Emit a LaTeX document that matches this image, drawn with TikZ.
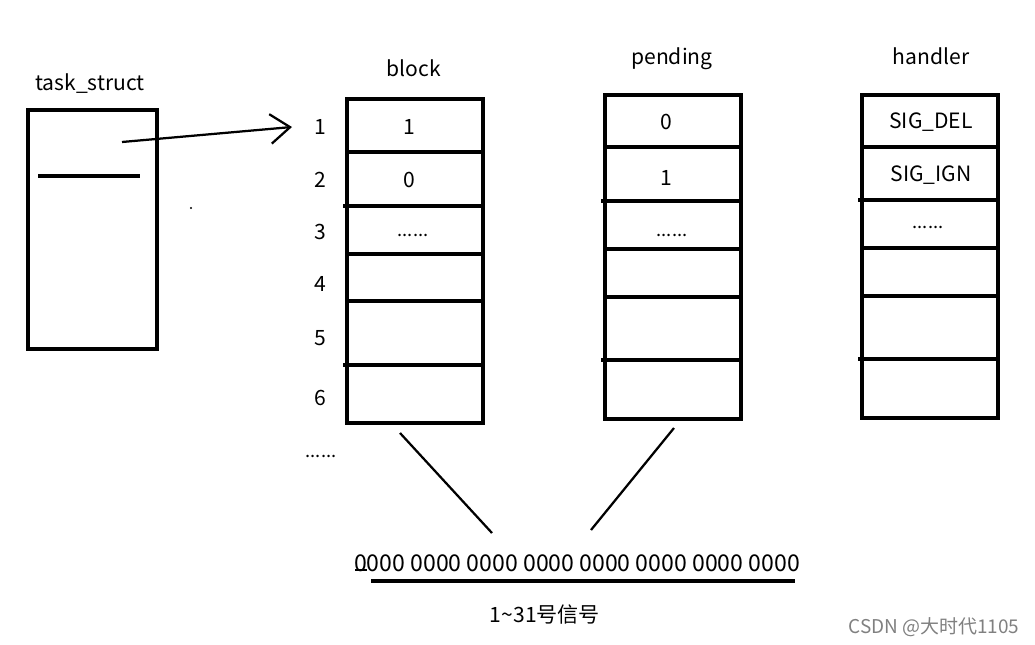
\documentclass[tikz,border=0pt]{standalone}
\usepackage{fontspec}
\setmainfont{Noto Sans CJK SC}
\usetikzlibrary{arrows.meta}
\begin{document}
\begin{tikzpicture}[x=0.025cm,y=-0.025cm]
        % Define styles
        \tikzset{
            box/.style={line width=2.2pt},
            link/.style={line width=1.6pt},
            label/.style={font=\fontsize{15}{18}\selectfont, inner sep=0pt},
            dots/.style={font=\fontsize{13}{15}\selectfont, inner sep=0pt}
        }
        \useasboundingbox (0,0) rectangle (1035,645);
        % task_struct
        \node[label] (task) at (90,84) {task\_struct};
        \draw[box] (28,110) rectangle (157,349);
        \draw[box] (38,176) -- (140,176);
        \coordinate (ptr) at (122,142);
        \fill (191,208) circle (0.8pt);
        % Signal numbers
        \foreach \n/\y in {1/127, 2/180, 3/232, 4/284, 5/338, 6/398}
            \node[label] (row\n) at (320,\y) {\n};
        \node[dots] (rowmore) at (321,456) {......};
        % Pointer to the block table
        \coordinate (tip) at (292,127);
        \draw[link, -{Straight Barb[length=14pt,width=21pt]}] (ptr) -- (tip);
        % block table
        \node[label] (block) at (414,68) {block};
        \draw[box] (347,99) rectangle (483,423);
        \foreach \y/\x in {152/347, 206/343, 254/347, 301/347, 365/343}
            \draw[box] (\x,\y) -- (483,\y);
        \node[label] (b1) at (409,127) {1};
        \node[label] (b2) at (409,180) {0};
        \node[dots] (b3) at (413,235) {......};
        % pending table
        \node[label] (pending) at (672,59) {pending};
        \draw[box] (605,95) rectangle (741,419);
        \foreach \y/\x in {147/605, 201/601, 249/605, 297/605, 360/601}
            \draw[box] (\x,\y) -- (741,\y);
        \node[label] (p1) at (666,122) {0};
        \node[label] (p2) at (666,178) {1};
        \node[dots] (p3) at (672,235) {......};
        % handler table
        \node[label] (handler) at (931,56) {handler};
        \draw[box] (862,95) rectangle (998,418);
        \foreach \y/\x in {147/862, 200/858, 248/862, 296/862, 359/858}
            \draw[box] (\x,\y) -- (998,\y);
        \node[label] (h1) at (931,122) {SIG\_DEL};
        \node[label] (h2) at (931,175) {SIG\_IGN};
        \node[dots] (h3) at (928,227) {......};
        % Bitmap
        \node[label, font=\fontsize{16.4}{19}\selectfont] (bits) at (577,563) {0000 0000 0000 0000 0000 0000 0000 0000};
        \draw[line width=0.8pt] (355,570) -- (367,570);
        \draw[box] (371,581) -- (795,581);
        \node[label] (range) at (545,615) {1\textasciitilde31号信号};
        \coordinate (blockbot) at (400,433);
        \coordinate (bitsl) at (492,533);
        \coordinate (pendbot) at (674,428);
        \coordinate (bitsr) at (591,530);
        \draw[link] (blockbot) -- (bitsl);
        \draw[link] (pendbot) -- (bitsr);
        % Watermark
        \node[font=\fontsize{13.5}{16}\selectfont, text=gray, inner sep=0pt] (mark) at (934,627) {CSDN @大时代1105};
\end{tikzpicture}
\end{document}
